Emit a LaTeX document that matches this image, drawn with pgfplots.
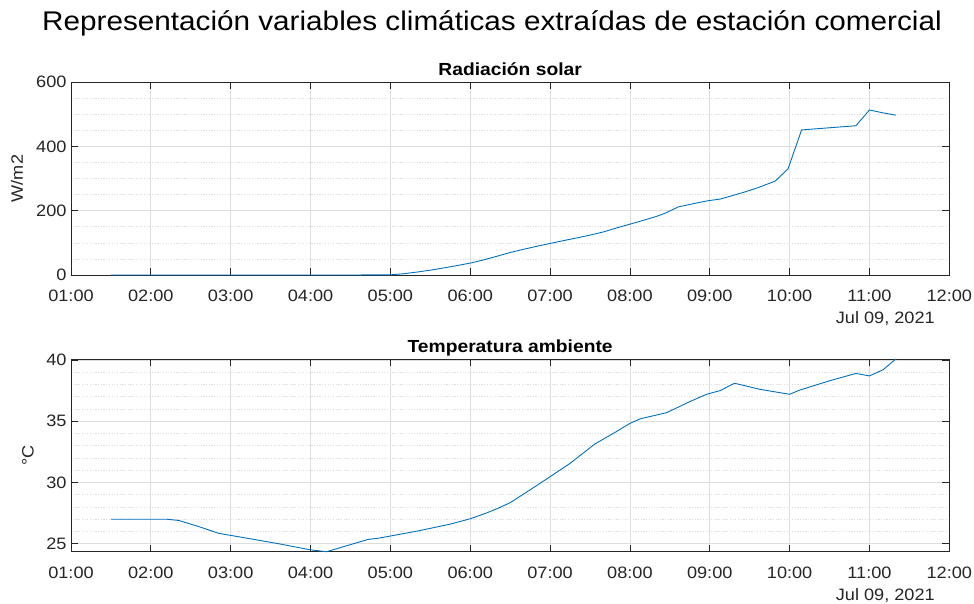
\documentclass[border=0pt]{standalone}
\usepackage{pgfplots}
\pgfplotsset{compat=1.18}
\usepackage{fontspec}
\setmainfont[FakeStretch=1.1]{Liberation Sans}
\definecolor{mblue}{RGB}{0,114,189}
\definecolor{axgray}{RGB}{38,38,38}
\definecolor{gridc}{RGB}{222,222,222}

\pgfplotsset{
 mystyle/.style={
  scale only axis, width=878.3pt, height=193pt, anchor=south west,
  xmin=1, xmax=12, xtick={1,2,3,4,5,6,7,8,9,10,11,12},
  xticklabels={01:00,02:00,03:00,04:00,05:00,06:00,07:00,08:00,09:00,10:00,11:00,12:00},
  xtick pos=both, ytick pos=both, tick align=inside,
  major tick length=7pt, minor tick length=0pt,
  xmajorgrids, ymajorgrids, yminorgrids,
  major grid style={gridc, line width=0.7pt},
  minor grid style={gridc, dash pattern=on 1.2pt off 1.5pt, line width=0.6pt},
  axis line style={axgray, line width=0.8pt},
  tick style={axgray, line width=0.8pt},
  ticklabel style={font=\fontsize{16.5}{16.5}\selectfont, text=axgray},
  xticklabel style={anchor=base, yshift=-26.5pt},
  yticklabel style={xshift=-1pt},
  /pgf/number format/assume math mode=true,
  label style={font=\fontsize{16.5}{16.5}\selectfont, text=axgray},
  title style={font=\bfseries\fontsize{17.5}{17.5}\selectfont, at={(0.5,1)}, anchor=base, yshift=0pt},
  clip=false,
 }
}

\begin{document}
\begin{tikzpicture}[x=1pt,y=1pt]
\path[use as bounding box, fill=white] (0,0) rectangle (974,604);
\node[font=\fontsize{27}{27}\selectfont, anchor=center] at (492,581) {Representación variables climáticas extraídas de estación comercial};

\begin{axis}[mystyle, at={(71pt,329pt)},
  ymin=0, ymax=600, ytick={0,200,400,600}, minor y tick num=3,
  title={Radiación solar},
  ylabel={W/m2}, ylabel style={at={(axis description cs:-0.0615,0.5)}, anchor=center, rotate=0},
]
\addplot[mblue, line width=0.9pt] coordinates {
(1.5,0) (2,0) (3,0) (4,0) (4.5,0) (5,0.5)
(5.17,4) (5.33,9) (5.5,15) (5.67,22) (5.83,29) (6.0,37) (6.17,47) (6.33,58)
(6.5,70) (6.67,80) (6.83,89) (7.0,98) (7.17,107) (7.33,115) (7.5,124) (7.67,134)
(7.83,146) (8.0,158) (8.17,170) (8.33,182) (8.44,192) (8.61,212) (8.8,222)
(8.98,231) (9.13,236) (9.3,248) (9.45,259) (9.61,272) (9.82,292) (9.98,330)
(10.15,451) (10.83,464) (11.0,513) (11.17,504) (11.33,497)
};
\node[font=\fontsize{16.5}{16.5}\selectfont, text=axgray, anchor=base] at (rel axis cs:1,0) [xshift=-64pt, yshift=-49pt] {Jul 09, 2021};
\end{axis}

\begin{axis}[mystyle, at={(71pt,52.3pt)}, height=192.7pt,
  ymin=24.35, ymax=40.08, ytick={25,30,35,40}, minor ytick={26,27,28,29,31,32,33,34,36,37,38,39},
  title={Temperatura ambiente},
  ylabel={°C}, ylabel style={at={(axis description cs:-0.049,0.5)}, anchor=center},
]
\addplot[mblue, line width=0.9pt] coordinates {
(1.5,27.0) (2.2,27.0) (2.35,26.9) (2.6,26.4) (2.85,25.85) (3.25,25.4) (3.6,25.0)
(4.0,24.5) (4.2,24.35) (4.72,25.35) (4.85,25.45) (5.35,26.05) (5.75,26.6)
(6.0,27.04) (6.2,27.5) (6.35,27.9) (6.5,28.35) (6.75,29.4) (7.0,30.47)
(7.25,31.56) (7.56,33.14) (7.79,34.0) (8.0,34.82) (8.13,35.2) (8.46,35.7)
(8.75,36.6) (8.96,37.2) (9.13,37.5) (9.31,38.1) (9.63,37.6) (10.0,37.2)
(10.13,37.55) (10.5,38.3) (10.83,38.9) (11.0,38.7) (11.17,39.2) (11.33,40.08)
};
\node[font=\fontsize{16.5}{16.5}\selectfont, text=axgray, anchor=base] at (rel axis cs:1,0) [xshift=-64pt, yshift=-49pt] {Jul 09, 2021};
\end{axis}
\end{tikzpicture}
\end{document}
